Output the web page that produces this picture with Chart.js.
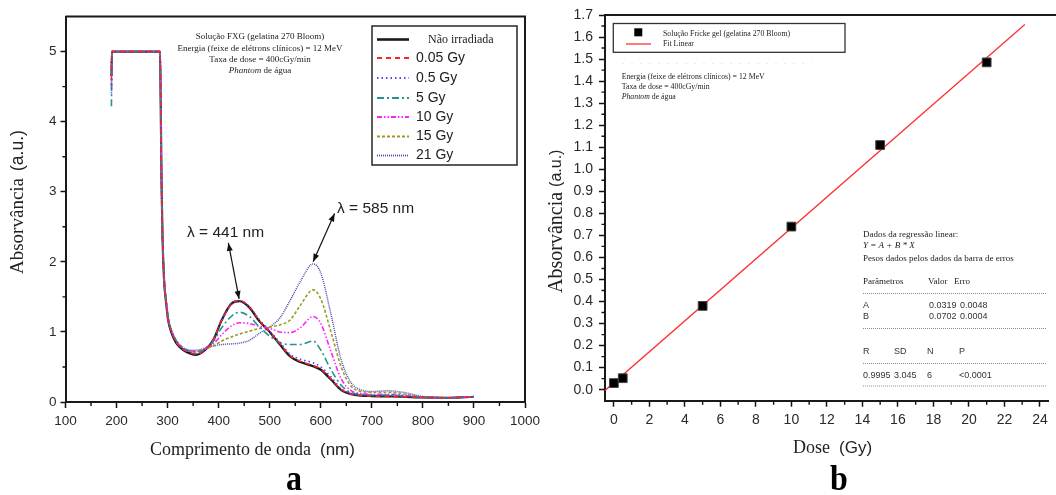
<!DOCTYPE html>
<html>
<head>
<meta charset="utf-8">
<script src="https://cdn.jsdelivr.net/npm/chart.js@4.4.1/dist/chart.umd.min.js"></script>
<style>
html, body { margin: 0; padding: 0; background: #fff; }
#wrap { position: relative; width: 1056px; height: 495px; overflow: hidden; }
canvas { position: absolute; top: 0; }
#spectra { left: 0; }
#calib { left: 530px; }
</style>
</head>
<body>
<div id="wrap">
  <canvas id="spectra" width="560" height="495"></canvas>
  <canvas id="calib" width="526" height="495"></canvas>
</div>
<script>
// ---- (a) absorption spectra of the FXG gel ----
var wavelengths = [190, 191, 285, 286, 288, 290, 293, 297, 301, 308, 317, 330, 345, 356, 374, 390, 406, 426, 441, 460,
                   480, 500, 520, 540, 560, 585, 600, 620, 640, 660, 680, 700, 730, 760, 800, 850, 900];
var absNaoIrradiada = [4.65, 5.0, 5.0, 4.6, 3.2, 2.35, 1.75, 1.42, 1.17, 0.98, 0.84, 0.745, 0.69, 0.673, 0.745, 0.89, 1.17, 1.41, 1.44, 1.35,
                       1.15, 1.0, 0.82, 0.65, 0.57, 0.51, 0.46, 0.32, 0.17, 0.11, 0.09, 0.085, 0.08, 0.075, 0.065, 0.06, 0.075];
var abs005Gy = [4.6, 5.0, 5.0, 4.6, 3.2, 2.35, 1.76, 1.43, 1.18, 0.99, 0.85, 0.75, 0.7, 0.68, 0.75, 0.9, 1.17, 1.41, 1.45, 1.36,
                1.16, 1.0, 0.83, 0.66, 0.58, 0.52, 0.47, 0.33, 0.18, 0.11, 0.09, 0.085, 0.08, 0.075, 0.065, 0.06, 0.075];
var abs05Gy = [4.4, 5.0, 5.0, 4.6, 3.2, 2.4, 1.77, 1.44, 1.19, 1.0, 0.86, 0.76, 0.71, 0.69, 0.76, 0.9, 1.16, 1.4, 1.44, 1.36,
               1.17, 1.01, 0.85, 0.68, 0.61, 0.56, 0.5, 0.36, 0.19, 0.12, 0.1, 0.09, 0.09, 0.08, 0.07, 0.06, 0.075];
var abs5Gy = [4.22, 5.0, 5.0, 4.6, 3.2, 2.4, 1.78, 1.45, 1.2, 1.01, 0.87, 0.77, 0.72, 0.71, 0.76, 0.87, 1.06, 1.23, 1.28, 1.22,
              1.07, 0.94, 0.85, 0.82, 0.82, 0.87, 0.74, 0.46, 0.24, 0.13, 0.11, 0.1, 0.1, 0.09, 0.07, 0.06, 0.075];
var abs10Gy = [4.5, 5.0, 5.0, 4.6, 3.2, 2.4, 1.78, 1.45, 1.2, 1.01, 0.87, 0.77, 0.73, 0.72, 0.76, 0.83, 0.96, 1.09, 1.13, 1.12,
               1.08, 1.05, 1.0, 0.99, 1.06, 1.22, 1.12, 0.72, 0.33, 0.16, 0.12, 0.11, 0.11, 0.1, 0.07, 0.06, 0.075];
var abs15Gy = [4.5, 5.0, 5.0, 4.6, 3.2, 2.4, 1.78, 1.45, 1.2, 1.01, 0.87, 0.77, 0.73, 0.73, 0.76, 0.8, 0.87, 0.93, 0.97, 1.01,
               1.05, 1.07, 1.1, 1.17, 1.38, 1.6, 1.47, 1.0, 0.5, 0.22, 0.15, 0.14, 0.14, 0.12, 0.07, 0.06, 0.075];
var abs21Gy = [4.65, 5.0, 5.0, 4.6, 3.2, 2.4, 1.79, 1.46, 1.21, 1.02, 0.88, 0.78, 0.74, 0.74, 0.77, 0.8, 0.82, 0.83, 0.84, 0.88,
               0.98, 1.07, 1.2, 1.45, 1.72, 1.97, 1.84, 1.25, 0.6, 0.27, 0.17, 0.15, 0.16, 0.14, 0.08, 0.06, 0.075];
var seriesLabels = ["Não irradiada", "0.05 Gy", "0.5 Gy", "5 Gy", "10 Gy", "15 Gy", "21 Gy"];
var xTicksNm = [100, 200, 300, 400, 500, 600, 700, 800, 900, 1000];

// ---- (b) dose response ----
var doseGy = [0, 0.5, 5, 10, 15, 21];
var absFricke = [0.03, 0.052, 0.38, 0.74, 1.11, 1.485];
var fitA = 0.0319, fitB = 0.0702;
var fitDoseRange = [-0.5, 23.15];

var SERIF = '"Liberation Serif", "Times New Roman", serif';
var SANS = '"Liberation Sans", Arial, sans-serif';
var INK = '#222';

function put(ctx, str, x, y, font, align, color) {
    ctx.font = font;
    ctx.textAlign = align || 'left';
    ctx.textBaseline = 'middle';
    ctx.fillStyle = color || INK;
    ctx.fillText(str, x, y);
    return ctx.measureText(str).width;
}

// several differently styled pieces on one line
function putRuns(ctx, runs, x, y, align) {
    var total = 0;
    runs.forEach(function(r) { ctx.font = r.font; total += ctx.measureText(r.text).width; });
    var cx = align === 'center' ? x - total / 2 : x;
    runs.forEach(function(r) { cx += put(ctx, r.text, cx, y, r.font, 'left', r.color); });
}

// rotated axis title, pieces laid out from the bottom upwards
function putVertical(ctx, runs, cx, bottom) {
    ctx.save();
    ctx.translate(cx, bottom);
    ctx.rotate(-Math.PI / 2);
    var x = 0;
    runs.forEach(function(r) { x += put(ctx, r.text, x, 0, r.font, 'left', r.color) + (r.gap || 0); });
    ctx.restore();
}

// bold panel letter, a little taller than wide
function panelLetter(ctx, ch, x, baseline) {
    ctx.save();
    ctx.translate(x, baseline);
    ctx.scale(1, 1.15);
    ctx.font = 'bold 32px ' + SERIF;
    ctx.textAlign = 'center';
    ctx.textBaseline = 'alphabetic';
    ctx.fillStyle = '#000';
    ctx.fillText(ch, 0, 0);
    ctx.restore();
}

function arrowHead(ctx, fx, fy, tx, ty, len, half) {
    var ang = Math.atan2(ty - fy, tx - fx);
    var bx = tx - len * Math.cos(ang), by = ty - len * Math.sin(ang);
    ctx.beginPath();
    ctx.moveTo(tx, ty);
    ctx.lineTo(bx + half * Math.sin(ang), by - half * Math.cos(ang));
    ctx.lineTo(bx - half * Math.sin(ang), by + half * Math.cos(ang));
    ctx.closePath();
    ctx.fill();
}

function doubleArrow(ctx, x1, y1, x2, y2) {
    ctx.strokeStyle = '#111';
    ctx.fillStyle = '#111';
    ctx.lineWidth = 1.2;
    ctx.setLineDash([]);
    ctx.beginPath(); ctx.moveTo(x1, y1); ctx.lineTo(x2, y2); ctx.stroke();
    arrowHead(ctx, x2, y2, x1, y1, 8, 3);
    arrowHead(ctx, x1, y1, x2, y2, 8, 3);
}

function minorTicks(ctx, scale, values, len) {
    ctx.strokeStyle = '#111';
    ctx.lineWidth = 1.4;
    ctx.setLineDash([]);
    ctx.beginPath();
    values.forEach(function(v) {
        var p = scale.getPixelForValue(v);
        if (scale.isHorizontal()) { ctx.moveTo(p, scale.top); ctx.lineTo(p, scale.top + len); }
        else { ctx.moveTo(scale.right, p); ctx.lineTo(scale.right - len, p); }
    });
    ctx.stroke();
}

function range(from, to, step) {
    var out = [];
    for (var v = from; v <= to + 1e-9; v += step) out.push(Math.round(v * 1000) / 1000);
    return out;
}

// ---------------- panel (a) ----------------
var spectraStyles = [
    { color: '#1a1a1a', dash: [],                     width: 2.2 },
    { color: '#ff2020', dash: [5, 4],                 width: 1.5 },
    { color: '#4848ff', dash: [1.5, 3],               width: 1.6 },
    { color: '#23958f', dash: [7, 3, 2, 3],           width: 1.6 },
    { color: '#ff22ff', dash: [5, 2, 1.5, 2, 1.5, 2], width: 1.6 },
    { color: '#9a9a2a', dash: [3, 2],                 width: 1.6 },
    { color: '#4b4bb0', dash: [1, 1],                 width: 1.5 }
];
var spectraValues = [absNaoIrradiada, abs005Gy, abs05Gy, abs5Gy, abs10Gy, abs15Gy, abs21Gy];

var spectraDatasets = spectraValues.map(function(vals, i) {
    var st = spectraStyles[i];
    return {
        label: seriesLabels[i],
        data: wavelengths.map(function(w, k) { return { x: w, y: vals[k] }; }),
        borderColor: st.color,
        borderDash: st.dash,
        borderWidth: st.width,
        pointRadius: 0,
        cubicInterpolationMode: 'monotone',
        order: i === 0 ? 10 : 0
    };
});

var spectraDecor = {
    id: 'spectraDecor',
    afterDraw: function(chart) {
        var ctx = chart.ctx, a = chart.chartArea;
        var xs = chart.scales.x, ys = chart.scales.y;
        ctx.save();

        // frame top and right
        ctx.strokeStyle = '#1a1a1a';
        ctx.lineWidth = 2;
        ctx.beginPath();
        ctx.moveTo(a.left, a.top); ctx.lineTo(a.right, a.top); ctx.lineTo(a.right, a.bottom);
        ctx.stroke();

        minorTicks(ctx, xs, range(150, 950, 100), 4);
        minorTicks(ctx, ys, range(0.5, 4.5, 1), 3);

        // peak markers
        doubleArrow(ctx, xs.getPixelForValue(419), ys.getPixelForValue(2.27), xs.getPixelForValue(440), ys.getPixelForValue(1.47));
        doubleArrow(ctx, xs.getPixelForValue(627), ys.getPixelForValue(2.69), xs.getPixelForValue(585), ys.getPixelForValue(2.0));
        put(ctx, 'λ = 441 nm', 187, 233, '15.5px ' + SANS, 'left', INK);
        put(ctx, 'λ = 585 nm', 337, 209, '15.5px ' + SANS, 'left', INK);

        // experiment notes
        var note = '9px ' + SERIF;
        put(ctx, 'Solução FXG (gelatina 270 Bloom)', 260, 37, note, 'center');
        put(ctx, 'Energia (feixe de elétrons clínicos) = 12 MeV', 260, 48.5, note, 'center');
        put(ctx, 'Taxa de dose = 400cGy/min', 260, 60, note, 'center');
        putRuns(ctx, [{ text: 'Phantom', font: 'italic 9px ' + SERIF }, { text: ' de água', font: note }], 260, 71, 'center');

        // legend
        ctx.strokeStyle = '#333';
        ctx.lineWidth = 1.6;
        ctx.strokeRect(372, 26, 145, 139);
        var rows = [39.5, 58, 78, 98, 117, 136.5, 155.5];
        chart.data.datasets.forEach(function(ds, i) {
            ctx.strokeStyle = ds.borderColor;
            ctx.lineWidth = i === 0 ? 2.6 : ds.borderWidth + 0.3;
            ctx.setLineDash(ds.borderDash);
            ctx.beginPath(); ctx.moveTo(377, rows[i]); ctx.lineTo(409, rows[i]); ctx.stroke();
            ctx.setLineDash([]);
            if (i === 0) put(ctx, ds.label, 428, rows[i], '12px ' + SERIF, 'left', INK);
            else put(ctx, ds.label, 416, rows[i], '14px ' + SANS, 'left', INK);
        });

        // axis titles
        putRuns(ctx, [{ text: 'Comprimento de onda', font: '18px ' + SERIF }, { text: '  ', font: '18px ' + SERIF },
                      { text: '(nm)', font: '17px ' + SANS }], 150, 450, 'left');
        putVertical(ctx, [{ text: 'Absorvância', font: '19px ' + SERIF, gap: 7 }, { text: '(a.u.)', font: '17.5px ' + SANS }], 18, 274);

        panelLetter(ctx, 'a', 294, 490);
        ctx.restore();
    }
};

new Chart(document.getElementById('spectra'), {
    type: 'line',
    data: { datasets: spectraDatasets },
    options: {
        responsive: false,
        animation: false,
        events: [],
        layout: { padding: { left: 0, right: 35, top: 16.5, bottom: 0 } },
        plugins: { legend: { display: false }, tooltip: { enabled: false } },
        scales: {
            x: {
                type: 'linear', min: xTicksNm[0], max: xTicksNm[xTicksNm.length - 1],
                afterFit: function(s) { s.height = 93; },
                afterBuildTicks: function(s) { s.ticks = xTicksNm.map(function(v) { return { value: v }; }); },
                ticks: {
                    font: { family: SANS, size: 13.5 }, color: '#2a2a2a', padding: 5, maxRotation: 0, autoSkip: false,
                    callback: function(v) { return String(v); }
                },
                grid: { drawOnChartArea: false, tickLength: 6, tickWidth: 1.5, tickColor: '#111' },
                border: { color: '#1a1a1a', width: 2 }
            },
            y: {
                type: 'linear', min: 0, max: 5.5,
                afterFit: function(s) { s.width = 65.5; },
                ticks: { stepSize: 1, includeBounds: false, font: { family: SANS, size: 13.5 }, color: '#2a2a2a', padding: 4 },
                grid: { drawOnChartArea: false, tickLength: 5, tickWidth: 1.5, tickColor: '#111' },
                border: { color: '#1a1a1a', width: 2 }
            }
        }
    },
    plugins: [spectraDecor]
});

// ---------------- panel (b) ----------------
var calibDecor = {
    id: 'calibDecor',
    afterDraw: function(chart) {
        var ctx = chart.ctx, a = chart.chartArea;
        var xs = chart.scales.x, ys = chart.scales.y;
        ctx.save();

        ctx.strokeStyle = '#1a1a1a';
        ctx.lineWidth = 2;
        ctx.beginPath(); ctx.moveTo(a.left, a.top); ctx.lineTo(526, a.top); ctx.stroke();

        minorTicks(ctx, xs, range(1, 23, 2), 4);
        minorTicks(ctx, ys, range(0.05, 1.65, 0.1), 3.5);

        // legend
        ctx.strokeStyle = '#333';
        ctx.lineWidth = 1.3;
        ctx.strokeRect(83.3, 23.5, 231.7, 28.8);
        ctx.fillStyle = '#000';
        ctx.fillRect(104.3, 28.3, 8, 8);
        ctx.strokeStyle = '#ff3030';
        ctx.lineWidth = 1.3;
        ctx.beginPath(); ctx.moveTo(96, 44); ctx.lineTo(121, 44); ctx.stroke();
        var small = '7.8px ' + SERIF;
        put(ctx, 'Solução Fricke gel (gelatina 270 Bloom)', 133, 33.5, small);
        put(ctx, 'Fit Linear', 133, 43.5, small);

        // experiment notes
        ctx.strokeStyle = '#ececec';
        ctx.lineWidth = 1;
        ctx.setLineDash([2, 7]);
        ctx.beginPath(); ctx.moveTo(92, 63.5); ctx.lineTo(282, 63.5); ctx.stroke();
        ctx.setLineDash([]);
        put(ctx, 'Energia (feixe de elétrons clínicos) = 12 MeV', 91.7, 77, small);
        put(ctx, 'Taxa de dose = 400cGy/min', 91.7, 87, small);
        putRuns(ctx, [{ text: 'Phantom', font: 'italic 7.8px ' + SERIF }, { text: ' de água', font: small }], 91.7, 96.5, 'left');

        // regression summary
        var tf = '9px ' + SERIF, sf = '9px ' + SANS, gray = '#333';
        put(ctx, 'Dados da regressão linear:', 333, 235, tf);
        put(ctx, 'Y = A + B * X', 333, 246, 'italic 9px ' + SERIF);
        put(ctx, 'Pesos dados pelos dados da barra de erros', 333, 259, tf);
        put(ctx, 'Parâmetros', 333, 281.5, tf);
        put(ctx, 'Valor', 398, 281.5, tf);
        put(ctx, 'Erro', 424, 281.5, tf);
        put(ctx, 'A', 333, 305.5, sf, 'left', gray);
        put(ctx, fitA.toFixed(4), 399, 305.5, sf, 'left', gray);
        put(ctx, '0.0048', 430, 305.5, sf, 'left', gray);
        put(ctx, 'B', 333, 317, sf, 'left', gray);
        put(ctx, fitB.toFixed(4), 399, 317, sf, 'left', gray);
        put(ctx, '0.0004', 430, 317, sf, 'left', gray);
        put(ctx, 'R', 333, 352, sf, 'left', gray);
        put(ctx, 'SD', 364, 352, sf, 'left', gray);
        put(ctx, 'N', 397, 352, sf, 'left', gray);
        put(ctx, 'P', 429, 352, sf, 'left', gray);
        put(ctx, '0.9995', 333, 376, sf, 'left', gray);
        put(ctx, '3.045', 364, 376, sf, 'left', gray);
        put(ctx, String(doseGy.length), 397, 376, sf, 'left', gray);
        put(ctx, '<0.0001', 429, 376, sf, 'left', gray);
        ctx.strokeStyle = '#8a8a8a';
        ctx.lineWidth = 1;
        ctx.setLineDash([1, 1]);
        [293.5, 328.5, 363.5, 386].forEach(function(y) {
            ctx.beginPath(); ctx.moveTo(333, y); ctx.lineTo(517, y); ctx.stroke();
        });
        ctx.setLineDash([]);

        // axis titles
        putRuns(ctx, [{ text: 'Dose', font: '18px ' + SERIF }, { text: '  ', font: '18px ' + SERIF },
                      { text: '(Gy)', font: '17px ' + SANS }], 263, 448, 'left');
        putVertical(ctx, [{ text: 'Absorvância', font: '20px ' + SERIF, gap: 5 }, { text: '(a.u.)', font: '16px ' + SANS }], 27, 293);

        panelLetter(ctx, 'b', 309, 490);
        ctx.restore();
    }
};

new Chart(document.getElementById('calib'), {
    type: 'scatter',
    data: {
        datasets: [
            {
                label: 'Solução Fricke gel (gelatina 270 Bloom)',
                data: doseGy.map(function(d, i) { return { x: d, y: absFricke[i] }; }),
                pointStyle: 'rect',
                pointRadius: 6.2,
                backgroundColor: '#000',
                borderColor: '#444',
                borderWidth: 1,
                order: 0
            },
            {
                type: 'line',
                label: 'Fit Linear',
                data: fitDoseRange.map(function(d) { return { x: d, y: fitA + fitB * d }; }),
                borderColor: '#ff3030',
                borderWidth: 1.3,
                pointRadius: 0,
                order: 1
            }
        ]
    },
    options: {
        responsive: false,
        animation: false,
        events: [],
        layout: { padding: { left: 0, right: 1, top: 15, bottom: 0 } },
        plugins: { legend: { display: false }, tooltip: { enabled: false } },
        scales: {
            x: {
                type: 'linear', min: -0.5, max: 24.5,
                afterFit: function(s) { s.height = 94.3; },
                ticks: { stepSize: 2, includeBounds: false, font: { family: SANS, size: 14 }, color: '#2a2a2a', padding: 5, maxRotation: 0, autoSkip: false },
                grid: { drawOnChartArea: false, tickLength: 6, tickWidth: 1.5, tickColor: '#111' },
                border: { color: '#1a1a1a', width: 2 }
            },
            y: {
                type: 'linear', min: -0.05, max: 1.7,
                afterFit: function(s) { s.width = 75; },
                ticks: {
                    stepSize: 0.1, includeBounds: false, maxTicksLimit: 40,
                    font: { family: SANS, size: 14 }, color: '#2a2a2a', padding: 6,
                    callback: function(v) { return v.toFixed(1); }
                },
                grid: { drawOnChartArea: false, tickLength: 6, tickWidth: 1.5, tickColor: '#111' },
                border: { color: '#1a1a1a', width: 2 }
            }
        }
    },
    plugins: [calibDecor]
});
</script>
</body>
</html>
